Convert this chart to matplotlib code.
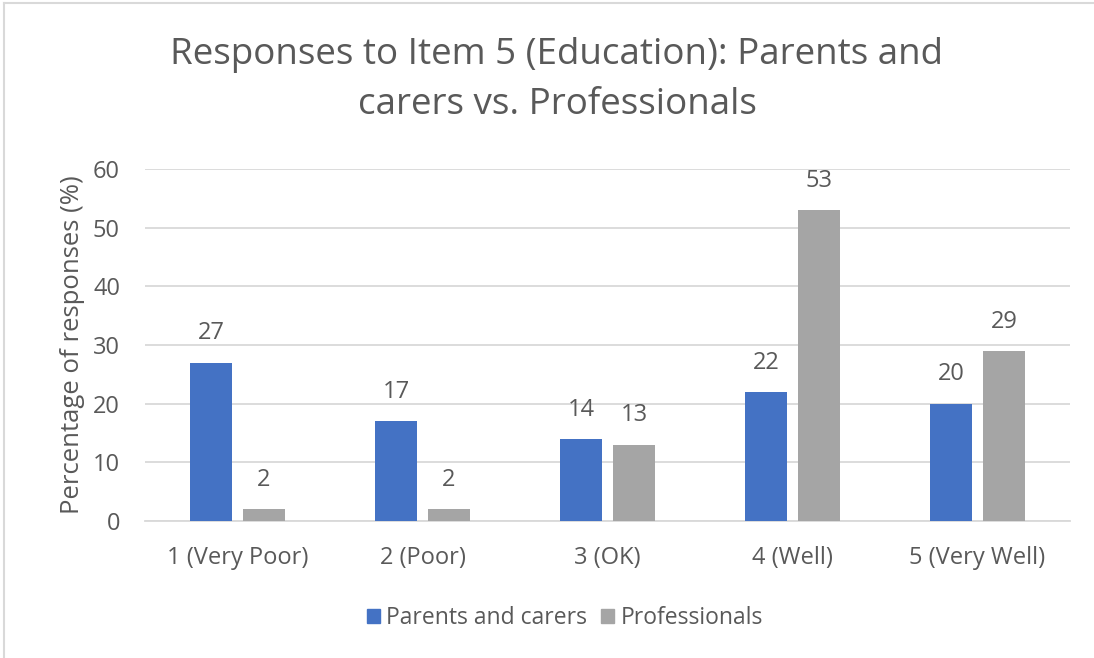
import matplotlib.pyplot as plt
import numpy as np
from matplotlib.lines import Line2D
from matplotlib.patches import Patch

plt.rcParams['font.family'] = ['Open Sans', 'DejaVu Sans']

categories = ['1 (Very Poor)', '2 (Poor)', '3 (OK)', '4 (Well)', '5 (Very Well)']
parents = [27, 17, 14, 22, 20]
professionals = [2, 2, 13, 53, 29]

text_col = '#595959'
blue = '#4472C4'
grey = '#A5A5A5'

fig = plt.figure(figsize=(10.94, 6.58), dpi=100)
ax = fig.add_axes([145 / 1094, 1 - 521 / 658, (1070 - 145) / 1094, (521 - 169) / 658])

x = np.arange(len(categories))
w = 0.224
off = 0.143
b1 = ax.bar(x - off, parents, w, color=blue, zorder=3)
b2 = ax.bar(x + off, professionals, w, color=grey, zorder=3)

for bars, vals in ((b1, parents), (b2, professionals)):
    for bar, v in zip(bars, vals):
        ax.text(bar.get_x() + bar.get_width() / 2, v + 5.0, str(v),
                ha='center', va='center', fontsize=17, color=text_col)

ax.set_xlim(-0.5, len(categories) - 0.5)
ax.set_ylim(0, 60)
ax.set_yticks(range(0, 61, 10))
ax.set_xticks(x)
ax.set_xticklabels(categories)
ax.tick_params(axis='both', length=0, labelsize=17, labelcolor=text_col)
ax.tick_params(axis='x', pad=18)
ax.tick_params(axis='y', pad=18)
ax.grid(axis='y', color='#D9D9D9', linewidth=1.3, zorder=0)
for s in ['top', 'right', 'left']:
    ax.spines[s].set_visible(False)
ax.spines['bottom'].set_color('#D9D9D9')
ax.spines['bottom'].set_linewidth(1.3)

ax.set_ylabel('Percentage of responses (%)', fontsize=18.5, color=text_col, labelpad=6)

fig.text(557 / 1094, 1 - 80 / 658, 'Responses to Item 5 (Education): Parents and\ncarers vs. Professionals',
         ha='center', va='center', fontsize=26.5, color=text_col, linespacing=1.5)

handles = [Patch(color=blue, label='Parents and carers'),
           Patch(color=grey, label='Professionals')]
fig.legend(handles=handles, loc='center', bbox_to_anchor=(565 / 1094, 1 - 618 / 658), ncol=2,
           frameon=False, fontsize=16.5, labelcolor=text_col, handlelength=0.55, handleheight=0.55,
           handletextpad=0.3, columnspacing=0.6)

# chart border (top and left visible in reference)
fig.add_artist(Line2D([4 / 1094, 4 / 1094], [0, 1 - 3 / 658], color='#D9D9D9', linewidth=1.5))
fig.add_artist(Line2D([4 / 1094, 1], [1 - 3 / 658, 1 - 3 / 658], color='#D9D9D9', linewidth=1.5))

fig.savefig('out.png', dpi=100)
